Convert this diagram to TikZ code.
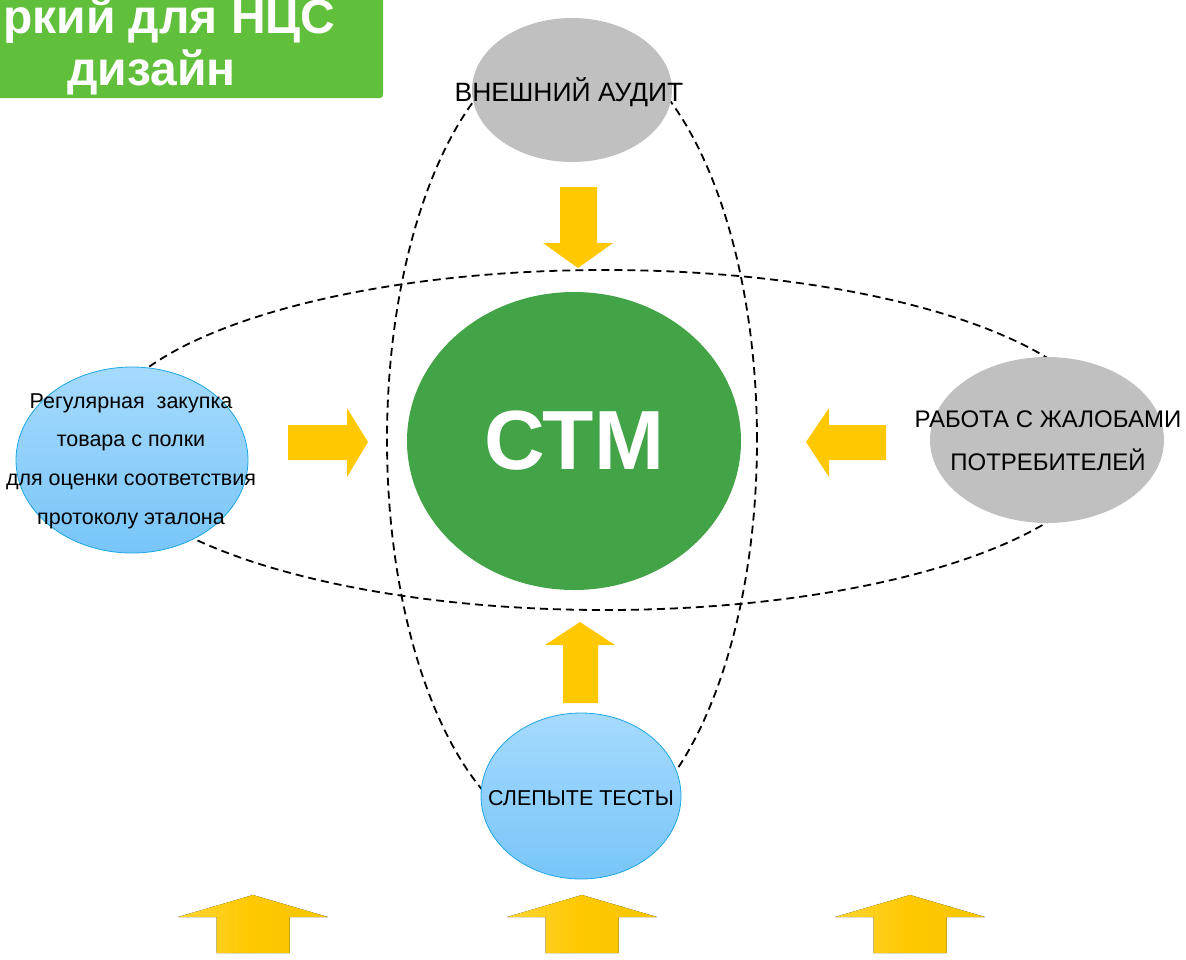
\documentclass[tikz,border=0pt]{standalone}
\usepackage{fontspec}
\setmainfont{Liberation Sans}
\usetikzlibrary{shapes.geometric}
\definecolor{bannergreen}{HTML}{60BF3B}
\definecolor{ctmgreen}{HTML}{43A447}
\definecolor{greyfill}{HTML}{C0C0C0}
\definecolor{bluetop}{HTML}{A6DAFD}
\definecolor{bluebot}{HTML}{78C5F9}
\definecolor{blueline}{HTML}{1CA6E4}
\definecolor{arrowyellow}{HTML}{FFC800}
\definecolor{arrowlight}{HTML}{FFD535}
\definecolor{arrowdark}{HTML}{F3C600}
\tikzset{
  dashline/.style={draw=black, line width=1.8pt, dash pattern=on 8pt off 5pt},
  greyell/.style={ellipse, fill=greyfill, inner sep=0pt},
  blueell/.style={ellipse, draw=blueline, line width=0.8pt, top color=bluetop, bottom color=bluebot, inner sep=0pt},
  blockarrow/.style={fill=arrowyellow},
  gradarrow/.style={left color=arrowlight, right color=arrowdark, middle color=arrowyellow},
  lbl/.style={font=\fontsize{21.5}{38.7}\selectfont, align=center, text=black},
  lblr/.style={font=\fontsize{24}{43}\selectfont, align=center, text=black},
  bannertxt/.style={anchor=base west, inner sep=0pt, text=white, font=\fontsize{48}{52}\selectfont\bfseries},
}
\begin{document}
\begin{tikzpicture}[x=1pt,y=-1pt]
\useasboundingbox (0,0) rectangle (1186,959);
% banner
\fill[bannergreen, rounded corners=3pt] (-10,-10) rectangle (383,98);
\node[bannertxt] (b1) at (3,33) {ркий для НЦС};
\node[bannertxt] (b2) at (67,85) {дизайн};
% dashed ellipses
\coordinate (vc) at (572,440);
\coordinate (hc) at (605,440);
\draw[dashline] (vc) ellipse [x radius=185pt, y radius=400pt];
\draw[dashline] (hc) ellipse [x radius=505pt, y radius=170pt];
% ellipses
\node[greyell, minimum width=200pt, minimum height=144pt] (top) at (572,90) {};
\node[lblr, font=\fontsize{26.5}{43}\selectfont] (topT) at (569,92) {ВНЕШНИЙ АУДИТ};
\node[greyell, minimum width=234pt, minimum height=166pt] (right) at (1047,440) {};
\node[lblr] (rightT) at (1048,441) {РАБОТА С ЖАЛОБАМИ\\ПОТРЕБИТЕЛЕЙ};
\node[blueell, minimum width=232pt, minimum height=186pt] (left) at (132,460) {};
\node[lbl] (leftT) at (131,461) {Регулярная\ \ закупка\\товара с полки\\для оценки соответствия\\протоколу эталона};
\node[blueell, minimum width=200pt, minimum height=166pt] (bottom) at (581,796) {};
\node[lbl] (bottomT) at (581,798) {СЛЕПЫТЕ ТЕСТЫ};
\node[ellipse, fill=ctmgreen, inner sep=0pt, minimum width=334pt, minimum height=298pt, text=white, font=\fontsize{84}{84}\selectfont\bfseries] (ctm) at (574,441) {СТМ};
% block arrows
\fill[blockarrow] (560,187) -- (597,187) -- (597,243) -- (613,243) -- (578,268) -- (543,243) -- (560,243) -- cycle;
\fill[blockarrow] (288,425) -- (347,425) -- (347,408) -- (368,442) -- (347,477) -- (347,460) -- (288,460) -- cycle;
\fill[blockarrow] (886,425) -- (829,425) -- (829,408) -- (806,442) -- (829,477) -- (829,460) -- (886,460) -- cycle;
\fill[blockarrow] (563,703) -- (598,703) -- (598,645) -- (615,645) -- (580,622) -- (545,645) -- (563,645) -- cycle;
\foreach \cx in {253,582,910} {
  \fill[gradarrow] (\cx-36.5,953) -- (\cx+36.5,953) -- (\cx+36.5,917) -- (\cx+75,917) -- (\cx,895) -- (\cx-75,917) -- (\cx-36.5,917) -- cycle;
}
\end{tikzpicture}
\end{document}
